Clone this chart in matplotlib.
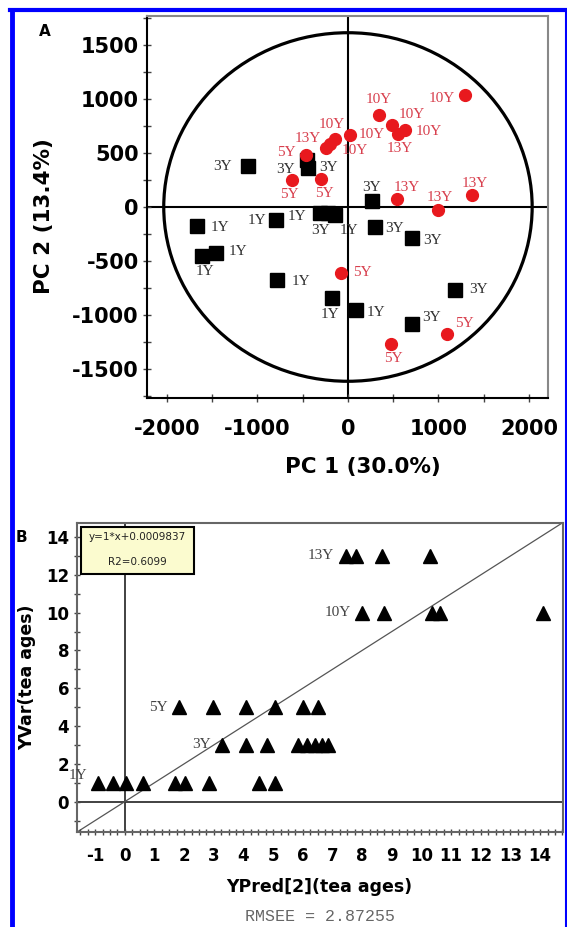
import numpy as np
import matplotlib
matplotlib.use("Agg")
import matplotlib.pyplot as plt
from matplotlib.patches import Ellipse, Rectangle
from matplotlib.lines import Line2D

plt.rcParams["axes.unicode_minus"] = False

### 1. 資料
## A: PCA scores
red_x = [1294, 344, 492, 629, 555, 19, -147, -203, -247, -461, -617, -295, 543, 998, 1375, -81, 1091, 481]
red_y = [1034, 855, 763, 710, 673, 670, 627, 587, 550, 479, 247, 256, 78, -31, 115, -611, -1173, -1265]
red_lab = ["10Y", "10Y", "10Y", "10Y", "13Y", "10Y", "10Y", "13Y", "10Y",
           "5Y", "5Y", "5Y", "13Y", "13Y", "13Y", "5Y", "5Y", "5Y"]

blk_x = [-1109, -450, -440, 270, -314, -222, -147, -794, -1664, -1608, -1459, -783, -173, 93, 296, 703, 1183, 703]
blk_y = [377, 432, 360, 56, -52, -52, -77, -123, -176, -454, -426, -673, -839, -950, -185, -287, -765, -1086]
blk_lab = ["3Y", "3Y", "3Y", "3Y", "1Y", "3Y", "1Y", "1Y", "1Y",
           "1Y", "1Y", "1Y", "1Y", "1Y", "3Y", "3Y", "3Y", "3Y"]

# label offsets (points)
red_off = [(-17, -2), (0, 11), (14, 7), (17, -1), (1, -10), (16, 0), (-2, 11), (-16, 4), (21, -2),
           (-14, 2), (-2, -10), (2, -10), (7, 8), (1, 9), (2, 8), (16, 0), (13, 7), (1, -11)]
blk_off = [(-18, 0), (15, -5), (-16, -1), (-1, 10), (-16, -3), (-5, -13), (10, -11), (-14, 0), (16, -1),
           (2, -11), (16, 1), (17, -1), (-2, -12), (14, -2), (14, -1), (15, -2), (17, 0), (14, 5)]

ellipse_w = 2035
ellipse_h = 1615

## B: PLS YPred vs YVar
ages = [13, 10, 5, 3, 1]
age_lab = ["13Y", "10Y", "5Y", "3Y", "1Y"]
pred = [
    [7.44, 7.78, 8.66, 10.3],
    [7.98, 8.74, 10.36, 10.64, 14.08],
    [1.82, 2.98, 4.08, 5.06, 6.01, 6.5],
    [3.29, 4.08, 4.81, 5.85, 6.13, 6.4, 6.64, 6.86],
    [-0.9, -0.41, 0.05, 0.6, 1.7, 2.03, 2.84, 4.54, 5.06],
]
fit_slope = 1
fit_icpt = 0.0009837
r2 = 0.6099
rmsee = 2.87255

### 2. 作圖
fig = plt.figure(figsize=(5.67, 9.27), dpi=100)

## A
ax = fig.add_axes([147 / 567, 1 - 398 / 927, 401 / 567, 382 / 927])
ax.set_xlim(-2220, 2210)
ax.set_ylim(-1770, 1770)
ax.axhline(0, color="black", lw=1.5, zorder=1)
ax.axvline(0, color="black", lw=1.5, zorder=1)
ax.add_patch(Ellipse((0, 0), 2 * ellipse_w, 2 * ellipse_h, fill=False, ec="black", lw=2.3, zorder=1))

ax.plot(blk_x, blk_y, "s", color="black", ms=10.5, zorder=3)
ax.plot(red_x, red_y, "o", color="#e8191e", mec="#e8191e", ms=8.5, zorder=4)
for x, y, t, o in zip(blk_x, blk_y, blk_lab, blk_off):
    ax.annotate(t, (x, y), xytext=o, textcoords="offset points", ha="center", va="center",
                fontfamily="Liberation Serif", fontsize=11, color="#333333", zorder=5)
for x, y, t, o in zip(red_x, red_y, red_lab, red_off):
    ax.annotate(t, (x, y), xytext=o, textcoords="offset points", ha="center", va="center",
                fontfamily="Liberation Serif", fontsize=11, color="#d8404e", zorder=5)

ax.set_xticks([-2000, -1000, 0, 1000, 2000])
ax.set_xticks(np.arange(-2000, 2001, 500), minor=True)
ax.set_yticks([-1500, -1000, -500, 0, 500, 1000, 1500])
ax.set_yticks(np.arange(-1750, 1751, 250), minor=True)
ax.tick_params(which="both", direction="inout", length=6, width=1, color="#444")
ax.tick_params(axis="x", pad=12, labelsize=15)
ax.tick_params(axis="y", pad=3, labelsize=15)
for lab in ax.get_xticklabels() + ax.get_yticklabels():
    lab.set_fontweight("bold")
for s in ["left", "bottom"]:
    ax.spines[s].set_color("black")
    ax.spines[s].set_linewidth(1.5)
for s in ["top", "right"]:
    ax.spines[s].set_color("#888888")
    ax.spines[s].set_linewidth(1.5)
ax.set_xlabel("PC 1 (30.0%)", fontsize=15.5, fontweight="bold")
ax.set_ylabel("PC 2 (13.4%)", fontsize=15.5, fontweight="bold")
ax.xaxis.set_label_coords(0.538, -0.155)
ax.yaxis.set_label_coords(-0.232, 0.476)

## B
bx = fig.add_axes([76.7 / 567, 1 - 832.3 / 927, 486 / 567, 309.6 / 927])
lo, hi = -1.62, 14.76
bx.set_xlim(lo, hi)
bx.set_ylim(lo, hi)
bx.axhline(0, color="#333333", lw=1.3, zorder=1)
bx.axvline(0, color="#333333", lw=1.3, zorder=1)
bx.plot([lo, hi], [fit_slope * lo + fit_icpt, fit_slope * hi + fit_icpt], color="#555555", lw=0.9, zorder=1)

for a, t, xs in zip(ages, age_lab, pred):
    bx.plot(xs, [a] * len(xs), "^", color="black", ms=10.5, zorder=3)
    dy = 5 if a == 1 else 0
    bx.annotate(t, (min(xs), a), xytext=(-8, dy), textcoords="offset points", ha="right", va="center",
                fontfamily="Liberation Serif", fontsize=11, color="#444444", zorder=4)

bx.add_patch(Rectangle((0.008, 0.834), 0.233, 0.153, transform=bx.transAxes,
                       fc="#fbfbcf", ec="black", lw=1.5, zorder=5))
bx.text(0.1245, 0.954, "y=%d*x+%s" % (fit_slope, fit_icpt), transform=bx.transAxes, ha="center", va="center",
        fontsize=7.5, color="#222", zorder=6)
bx.text(0.1245, 0.873, "R2=%s" % r2, transform=bx.transAxes, ha="center", va="center",
        fontsize=7.5, color="#222", zorder=6)

bx.set_xticks(np.arange(-1, 15, 1))
bx.set_xticks(np.arange(-1.5, 14.76, 0.25), minor=True)
bx.set_yticks(np.arange(0, 15, 2))
bx.set_yticks(np.arange(-1, 15, 1), minor=True)
bx.tick_params(which="both", direction="inout", length=5, width=1, color="#444")
bx.tick_params(axis="x", pad=8, labelsize=12)
bx.tick_params(axis="y", pad=3, labelsize=12)
for lab in bx.get_xticklabels() + bx.get_yticklabels():
    lab.set_fontweight("bold")
for s in bx.spines.values():
    s.set_color("#666666")
    s.set_linewidth(1.5)
bx.set_xlabel("YPred[2](tea ages)", fontsize=12.5, fontweight="bold")
bx.set_ylabel("YVar(tea ages)", fontsize=12.5, fontweight="bold")
bx.xaxis.set_label_coords(0.5, -0.148)
bx.yaxis.set_label_coords(-0.084, 0.5)

fig.text(319.7 / 567, 0.011, "RMSEE = %s" % rmsee, ha="center", va="center",
         fontfamily="Liberation Mono", fontsize=12, color="#666666")

## 標題字母與藍框
fig.text(44.5 / 567, 1 - 32 / 927, "A", ha="center", va="center", fontsize=11, fontweight="bold")
fig.text(21 / 567, 1 - 538 / 927, "B", ha="center", va="center", fontsize=11, fontweight="bold")
fig.add_artist(Line2D([11.5 / 567, 11.5 / 567], [0, 1 - 10 / 927], color="#0000ff", lw=3.5))
fig.add_artist(Line2D([9.5 / 567, 1], [1 - 10 / 927, 1 - 10 / 927], color="#0000ff", lw=3))
fig.add_artist(Line2D([566 / 567, 566 / 567], [0, 1 - 10 / 927], color="#0000ff", lw=1.5))

fig.savefig("out.png", dpi=100)
